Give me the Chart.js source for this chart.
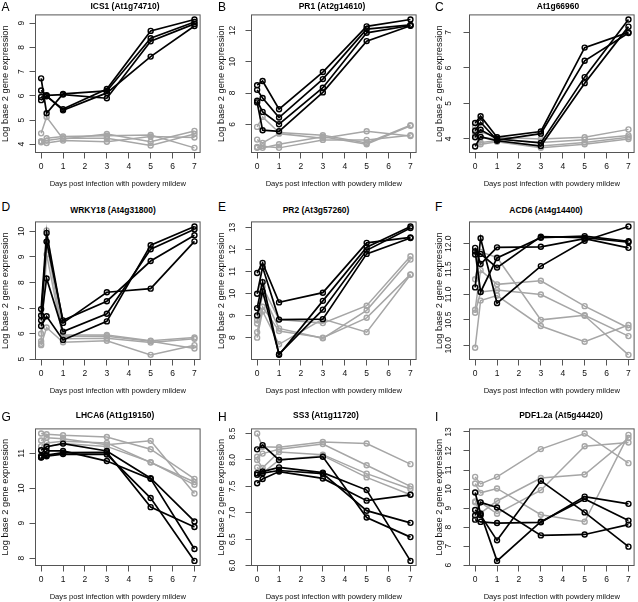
<!DOCTYPE html>
<html>
<head>
<meta charset="utf-8">
<title>Expression after powdery mildew infection</title>
<script src="https://cdn.jsdelivr.net/npm/chart.js@4.4.1/dist/chart.umd.min.js"></script>
<style>
  body { margin: 0; background: #fff; }
  #page { position: relative; width: 638px; height: 602px; overflow: hidden; font-family: "Liberation Sans", Arial, sans-serif; }
  canvas { position: absolute; }
  .letter { position: absolute; font-size: 12px; line-height: 12px; color: #000; }
  .title { position: absolute; font-size: 9.5px; line-height: 10px; font-weight: bold; white-space: nowrap; color: #000;
           transform: translateX(-50%) scaleX(0.89); }
</style>
</head>
<body>
<div id="page"></div>
<script>
// sampling days
const days = [0, 0.25, 1, 3, 5, 7];
const dayTicks = ['0', '1', '2', '3', '4', '5', '6', '7'];

const panelLetters = ['A', 'B', 'C', 'D', 'E', 'F', 'G', 'H', 'I'];
const panelTitles = ['ICS1 (At1g74710)', 'PR1 (At2g14610)', 'At1g66960',
  'WRKY18 (At4g31800)', 'PR2 (At3g57260)', 'ACD6 (At4g14400)',
  'LHCA6 (At1g19150)', 'SS3 (At1g11720)', 'PDF1.2a (At5g44420)'];

// y tick labels per panel
const ticksA = ['4', '5', '6', '7', '8', '9'];
const ticksB = ['6', '8', '10', '12'];
const ticksC = ['4', '5', '6', '7'];
const ticksD = ['5', '6', '7', '8', '9', '10'];
const ticksE = ['8', '9', '10', '11', '12', '13'];
const ticksF = ['10.0', '10.5', '11.0', '11.5', '12.0'];
const ticksG = ['8', '9', '10', '11'];
const ticksH = ['6.0', '6.5', '7.0', '7.5', '8.0', '8.5'];
const ticksI = ['6', '7', '8', '9', '10', '11', '12', '13'];

// log2 expression, one row per line, values at the days above
const ics1Black = [
  [6.72, 5.28, 6.08, 6.20, 8.38, 9.05],
  [6.22, 6.02, 6.05, 5.90, 8.25, 8.97],
  [5.95, 5.98, 5.45, 6.28, 8.68, 9.15],
  [5.82, 6.00, 5.40, 6.12, 7.62, 8.88]];
const ics1Gray = [
  [4.45, 5.12, 4.22, 4.42, 4.10, 4.55],
  [4.12, 4.25, 4.32, 4.35, 4.38, 3.85],
  [4.12, 4.15, 4.25, 4.25, 3.95, 4.42],
  [4.08, 4.05, 4.15, 4.10, 4.32, 4.28]];

const pr1Black = [
  [8.50, 8.77, 6.96, 9.34, 12.26, 12.70],
  [8.20, 7.68, 6.43, 8.89, 12.09, 12.36],
  [7.50, 6.79, 6.00, 8.34, 11.85, 12.32],
  [7.40, 5.62, 5.55, 8.04, 11.32, 12.30]];
const pr1Gray = [
  [5.83, 6.47, 5.47, 5.30, 4.80, 5.94],
  [5.02, 4.81, 5.40, 5.10, 5.55, 5.25],
  [4.55, 4.49, 4.72, 5.20, 4.72, 5.90],
  [4.50, 4.60, 4.49, 5.00, 5.00, 5.30]];

const at1gBlack = [
  [4.45, 4.64, 4.05, 4.21, 6.57, 7.00],
  [4.23, 4.47, 3.97, 4.15, 6.20, 6.98],
  [4.05, 4.26, 4.00, 3.89, 5.74, 7.36],
  [3.79, 4.06, 3.95, 3.80, 5.57, 7.16]];
const at1gGray = [
  [4.35, 4.20, 4.05, 4.00, 4.05, 4.27],
  [4.25, 4.05, 4.00, 3.90, 3.98, 4.10],
  [4.15, 3.90, 3.95, 3.80, 3.90, 4.05],
  [4.10, 3.85, 3.92, 3.75, 3.85, 4.00]];

const wrkyBlack = [
  [6.96, 9.94, 6.42, 7.62, 7.76, 9.61],
  [6.71, 9.60, 6.52, 7.27, 8.84, 9.85],
  [6.52, 8.16, 6.08, 6.78, 9.30, 10.08],
  [6.30, 6.68, 5.75, 6.48, 9.46, 10.19]];
const wrkyGray = [
  [6.00, 10.04, 5.95, 5.95, 5.72, 5.85],
  [5.70, 9.60, 5.90, 5.90, 5.70, 5.42],
  [5.60, 9.10, 5.80, 5.82, 5.65, 5.80],
  [5.55, 6.24, 5.66, 5.72, 5.17, 5.55]];

const pr2Black = [
  [10.93, 11.39, 9.60, 10.04, 12.30, 12.55],
  [9.99, 11.20, 8.82, 8.84, 11.80, 12.52],
  [9.34, 10.52, 7.22, 9.67, 12.10, 13.04],
  [9.01, 10.10, 7.25, 9.27, 11.96, 12.97]];
const pr2Gray = [
  [8.80, 10.30, 8.82, 8.66, 9.45, 11.69],
  [8.64, 10.00, 8.42, 7.97, 9.24, 11.54],
  [8.25, 9.40, 8.30, 8.00, 8.90, 10.87],
  [8.00, 9.20, 7.70, 8.84, 8.25, 10.85]];

const acd6Black = [
  [11.92, 11.60, 11.93, 11.94, 12.10, 11.92],
  [11.85, 11.05, 11.72, 12.12, 12.15, 12.05],
  [11.79, 11.80, 11.53, 12.14, 12.12, 12.03],
  [11.14, 12.11, 10.83, 11.56, 12.06, 12.34]];
const acd6Gray = [
  [11.30, 11.84, 11.73, 10.50, 10.59, 10.18],
  [10.70, 11.48, 11.20, 11.27, 10.77, 10.34],
  [10.64, 11.05, 11.09, 11.00, 10.58, 9.81],
  [9.95, 10.88, 10.98, 10.38, 10.07, 10.40]];

const lhcaBlack = [
  [11.09, 11.19, 11.28, 11.07, 10.29, 9.05],
  [10.93, 11.07, 11.07, 10.78, 10.27, 8.26],
  [10.89, 10.95, 11.02, 11.03, 9.46, 8.89],
  [10.88, 10.92, 10.98, 10.97, 9.72, 7.92]];
const lhcaGray = [
  [11.57, 11.55, 11.52, 11.47, 11.12, 10.27],
  [11.37, 11.45, 11.42, 11.25, 11.36, 9.85],
  [11.20, 11.30, 11.35, 11.30, 10.74, 10.18],
  [11.10, 11.20, 11.28, 11.20, 10.75, 10.10]];

const ss3Black = [
  [8.20, 8.28, 8.00, 8.06, 6.91, 6.54],
  [7.75, 7.78, 7.86, 7.76, 7.43, 6.09],
  [7.72, 7.75, 7.80, 7.74, 7.04, 6.81],
  [7.56, 7.64, 7.78, 7.65, 7.23, 7.34]];
const ss3Gray = [
  [8.50, 8.25, 8.24, 8.34, 8.31, 7.92],
  [8.06, 8.12, 8.20, 8.30, 7.90, 7.50],
  [8.00, 7.85, 8.15, 8.10, 7.74, 7.45],
  [7.86, 7.75, 8.00, 8.08, 7.67, 7.34]];

const pdfBlack = [
  [9.82, 8.70, 6.22, 8.28, 9.48, 8.34],
  [8.90, 8.62, 7.30, 10.43, 8.77, 6.97],
  [8.61, 9.30, 9.03, 7.56, 7.61, 8.13],
  [8.39, 8.27, 8.21, 8.25, 9.60, 9.22]];
const pdfGray = [
  [10.64, 10.27, 10.64, 12.10, 12.92, 11.36],
  [10.29, 9.80, 10.03, 8.65, 8.28, 12.85],
  [9.34, 9.30, 8.70, 9.94, 12.25, 12.45],
  [9.30, 8.73, 9.37, 10.58, 10.76, 12.68]];

const panels = [
  [ics1Black, ics1Gray, ticksA], [pr1Black, pr1Gray, ticksB], [at1gBlack, at1gGray, ticksC],
  [wrkyBlack, wrkyGray, ticksD], [pr2Black, pr2Gray, ticksE], [acd6Black, acd6Gray, ticksF],
  [lhcaBlack, lhcaGray, ticksG], [ss3Black, ss3Gray, ticksH], [pdfBlack, pdfGray, ticksI]];

// page layout (plot box corners)
const colBoxLeft = [35, 251, 469];
const rowBoxTop = [13, 220, 427];
const rowBoxH = [140, 140, 139];
const boxW = 167;
const yLabelGap = [13, 18.5, 20];
const titleX = [124.5, 332, 557.5, 112.5, 316, 545.7, 115, 326, 560.5];
const titleTop = [1.2, 204.5, 410.2];
const letterLeft = [1.5, 218, 435];
const letterTop = [1.1, 201, 411];

const FONT = '"Liberation Sans", Arial, sans-serif';
Chart.defaults.font.family = FONT;

// box round the plot region + rotated y tick labels, like R
const rBox = {
  id: 'rbox',
  afterDraw(chart, args, opts) {
    const {ctx, chartArea: a} = chart;
    const y = chart.scales.y;
    ctx.save();
    ctx.strokeStyle = '#555';
    ctx.lineWidth = 1;
    ctx.strokeRect(a.left + 0.5, a.top + 0.5, a.right - a.left - 1, a.bottom - a.top - 1);
    ctx.fillStyle = '#111';
    ctx.font = '8.5px ' + FONT;
    ctx.textAlign = 'center';
    ctx.textBaseline = 'middle';
    y.ticks.forEach((t, i) => {
      ctx.save();
      ctx.translate(a.left - opts.gap, y.getPixelForValue(t.value));
      ctx.rotate(-Math.PI / 2);
      ctx.fillText(opts.labels[i], 0, 0);
      ctx.restore();
    });
    ctx.restore();
  }
};

function lineSet(vals, color, width) {
  return {
    data: vals.map((v, i) => ({x: days[i], y: v})),
    borderColor: color,
    borderWidth: width,
    pointRadius: 2.5,
    pointBorderWidth: 1.4,
    pointBorderColor: color,
    pointBackgroundColor: 'rgba(0,0,0,0)',
    tension: 0,
    clip: false
  };
}

const page = document.getElementById('page');

panels.forEach((p, k) => {
  const col = k % 3, row = Math.floor(k / 3);
  const [blackRows, grayRows, yLabels] = p;
  const all = blackRows.flat().concat(grayRows.flat());
  const lo = Math.min(...all), hi = Math.max(...all);
  const pad = (hi - lo) * 0.04;

  const canvas = document.createElement('canvas');
  canvas.width = 36 + boxW + 4;
  canvas.height = 4 + rowBoxH[row] + 37;
  canvas.style.left = (colBoxLeft[col] - 36) + 'px';
  canvas.style.top = (rowBoxTop[row] - 4) + 'px';
  page.appendChild(canvas);

  const letter = document.createElement('div');
  letter.className = 'letter';
  letter.textContent = panelLetters[k];
  letter.style.left = letterLeft[col] + 'px';
  letter.style.top = letterTop[row] + 'px';
  page.appendChild(letter);

  const title = document.createElement('div');
  title.className = 'title';
  title.textContent = panelTitles[k];
  title.style.left = titleX[k] + 'px';
  title.style.top = titleTop[row] + 'px';
  page.appendChild(title);

  const sets = [];
  blackRows.forEach(r => sets.push(lineSet(r, '#000000', 1.7)));
  grayRows.forEach(r => sets.push(lineSet(r, '#a6a6a6', 1.5)));

  const tickStyle = {drawOnChartArea: false, drawTicks: true, tickLength: 5.5, color: '#555', lineWidth: 1};

  new Chart(canvas, {
    type: 'line',
    data: {datasets: sets},
    options: {
      responsive: false,
      animation: false,
      events: [],
      layout: {padding: {left: 0, top: 4, right: 4, bottom: 0}},
      plugins: {
        legend: {display: false},
        tooltip: {enabled: false},
        rbox: {gap: yLabelGap[col], labels: yLabels}
      },
      scales: {
        x: {
          type: 'linear',
          min: -0.28,
          max: 7.28,
          afterBuildTicks: s => { s.ticks = dayTicks.map(v => ({value: Number(v)})); },
          afterFit: s => { s.height = 37; },
          grid: tickStyle,
          border: {display: false},
          ticks: {padding: 3.2, color: '#111', font: {size: 8.5}, maxRotation: 0, autoSkip: false,
                  callback: (v, i) => dayTicks[i]},
          title: {display: true, text: 'Days post infection with powdery mildew', color: '#111',
                  font: {size: 7.6}, padding: {top: 0, bottom: 2}}
        },
        y: {
          type: 'linear',
          min: lo - pad,
          max: hi + pad,
          afterBuildTicks: s => { s.ticks = yLabels.map(v => ({value: Number(v)})); },
          afterFit: s => { s.width = 36; },
          grid: tickStyle,
          border: {display: false},
          ticks: {display: false},
          title: {display: true, text: 'Log base 2 gene expression', color: '#111',
                  font: {size: 9.3}, padding: {top: 1, bottom: 0}}
        }
      }
    },
    plugins: [rBox]
  });
});
</script>
</body>
</html>
